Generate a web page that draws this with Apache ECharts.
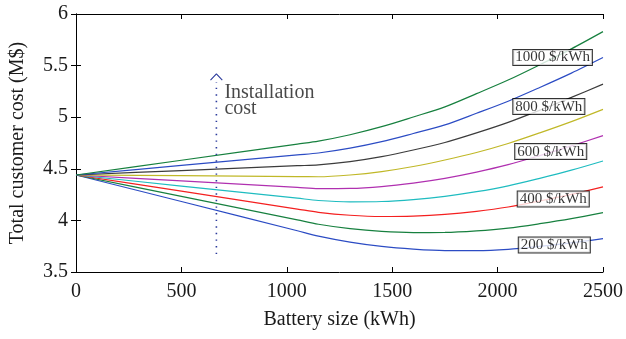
<!DOCTYPE html>
<html><head><meta charset="utf-8">
<script src="https://cdn.jsdelivr.net/npm/echarts@6/dist/echarts.min.js"></script>
<style>html,body{margin:0;padding:0;background:#fff}#c{width:626px;height:339px}</style>
</head><body><div id="c"></div><script>
// Battery size samples (kWh)
const batterySize = [0, 500, 1050, 1150, 1300, 1450, 1600, 1750, 1900, 2050, 2200, 2350, 2500];
// Total customer cost (M$) per battery price
const cost200  = [4.44, 4.183, 3.900, 3.848, 3.790, 3.748, 3.722, 3.708, 3.708, 3.720, 3.748, 3.782, 3.823];
const cost300  = [4.44, 4.233, 4.005, 3.963, 3.920, 3.893, 3.882, 3.883, 3.898, 3.925, 3.968, 4.017, 4.075];
const cost400  = [4.44, 4.283, 4.110, 4.078, 4.050, 4.038, 4.042, 4.058, 4.088, 4.130, 4.188, 4.252, 4.325];
const cost500  = [4.44, 4.333, 4.215, 4.193, 4.180, 4.183, 4.202, 4.233, 4.278, 4.335, 4.408, 4.487, 4.576];
const cost600  = [4.44, 4.383, 4.320, 4.308, 4.310, 4.328, 4.362, 4.408, 4.468, 4.540, 4.628, 4.722, 4.822];
const cost700  = [4.44, 4.433, 4.425, 4.423, 4.440, 4.473, 4.522, 4.585, 4.658, 4.745, 4.848, 4.957, 5.076];
const cost800  = [4.44, 4.483, 4.530, 4.538, 4.570, 4.618, 4.682, 4.755, 4.848, 4.950, 5.068, 5.192, 5.320];
const cost900  = [4.44, 4.533, 4.635, 4.653, 4.700, 4.763, 4.842, 4.925, 5.038, 5.155, 5.288, 5.427, 5.578];
const cost1000 = [4.44, 4.583, 4.740, 4.768, 4.830, 4.908, 5.002, 5.100, 5.228, 5.360, 5.508, 5.662, 5.829];

const seriesNames = ['200 $/kWh','300 $/kWh','400 $/kWh','500 $/kWh','600 $/kWh','700 $/kWh','800 $/kWh','900 $/kWh','1000 $/kWh'];
const seriesValues = [cost200, cost300, cost400, cost500, cost600, cost700, cost800, cost900, cost1000];
const seriesColors = ['#2c4cc4','#17803f','#f42020','#1fbcc0','#b030b0','#c0b828','#3c3c3c','#2c4cc4','#17803f'];

const priceLabels = ['200 $/kWh','400 $/kWh','600 $/kWh','800 $/kWh','1000 $/kWh'];
const xTicks = [0, 500, 1000, 1500, 2000, 2500];
const yTicks = [3.5, 4, 4.5, 5, 5.5, 6];

// annotation placement (data coordinates)
const priceLabelAnchors = [[2269, 3.762], [2264, 4.207], [2252, 4.667], [2243, 5.103], [2261, 5.578]];
const arrowX = 666;
const arrowShaft = [3.674, 5.34];
const arrowHead = [[638, 5.36], [666, 5.419], [694, 5.36]];
const installTextAnchor = [704, 5.31];

const FONT = 'Liberation Serif';
const TEXT = '#1a1a1a';
const chart = echarts.init(document.getElementById('c'), null, {renderer: 'canvas'});

const xStep = xTicks[1] - xTicks[0];
const yStep = yTicks[1] - yTicks[0];
const axisLineStyle = {lineStyle: {color: '#000', width: 1}};
const tickStyle = {show: true, inside: true, length: 5, lineStyle: {color: '#000', width: 1}};
const plain = v => String(v);

const lineSeries = seriesValues.map((vals, i) => ({
  name: seriesNames[i],
  type: 'line',
  data: batterySize.map((x, j) => [x, vals[j]]),
  showSymbol: false,
  symbol: 'none',
  smooth: 0.3,
  lineStyle: {color: seriesColors[i], width: 1.2},
  itemStyle: {color: seriesColors[i]},
  silent: true,
  z: 2
}));

const option = {
  animation: false,
  backgroundColor: '#fff',
  grid: {left: 76, right: 21, top: 14, bottom: 67, containLabel: false},
  xAxis: [
    {type: 'value', position: 'bottom', min: xTicks[0], max: xTicks[xTicks.length - 1], interval: xStep,
     axisLine: axisLineStyle, axisTick: tickStyle, splitLine: {show: false},
     axisLabel: {fontFamily: FONT, fontSize: 20, color: TEXT, margin: 10, formatter: plain},
     name: 'Battery size (kWh)', nameLocation: 'middle', nameGap: 38,
     nameTextStyle: {fontFamily: FONT, fontSize: 20, color: TEXT}},
    {type: 'value', position: 'top', min: xTicks[0], max: xTicks[xTicks.length - 1], interval: xStep,
     axisLine: axisLineStyle, axisTick: tickStyle, splitLine: {show: false}, axisLabel: {show: false}}
  ],
  yAxis: [
    {type: 'value', position: 'left', min: yTicks[0], max: yTicks[yTicks.length - 1], interval: yStep,
     axisLine: {show: true, ...axisLineStyle}, axisTick: tickStyle, splitLine: {show: false},
     axisLabel: {fontFamily: FONT, fontSize: 20, color: TEXT, margin: 8, formatter: plain},
     name: 'Total customer cost (M$)', nameLocation: 'middle', nameGap: 48, nameRotate: 90,
     nameTextStyle: {fontFamily: FONT, fontSize: 20, color: TEXT}},
    {type: 'value', position: 'right', min: yTicks[0], max: yTicks[yTicks.length - 1], interval: yStep,
     axisLine: {show: true, ...axisLineStyle}, axisTick: tickStyle, splitLine: {show: false}, axisLabel: {show: false}}
  ],
  series: [
    ...lineSeries,
    {type: 'line', data: arrowShaft.map(y => [arrowX, y]), symbol: 'none', silent: true,
     lineStyle: {color: '#2b3a9c', width: 1.6, type: [1.4, 5.2]}, z: 3},
    {type: 'line', data: arrowHead, symbol: 'none', silent: true,
     lineStyle: {color: '#2b3a9c', width: 1.1}, z: 3},
    {type: 'scatter', data: [{value: installTextAnchor, name: 'Installation\ncost'}],
     symbolSize: 0, silent: true, z: 4,
     label: {show: true, position: [0, 0], formatter: p => p.name, align: 'left', verticalAlign: 'top',
             fontFamily: FONT, fontSize: 20, lineHeight: 16, color: TEXT}},
    {type: 'scatter', data: priceLabels.map((t, i) => ({value: priceLabelAnchors[i], name: t})),
     symbolSize: 0, silent: true, z: 10,
     label: {show: true, position: 'inside', formatter: p => p.name, align: 'center', verticalAlign: 'middle',
             fontFamily: FONT, fontSize: 15, lineHeight: 15, color: '#000',
             backgroundColor: '#fff', borderColor: '#000', borderWidth: 1, padding: [0, 2, 0, 2]}}
  ]
};
chart.setOption(option);
</script></body></html>
